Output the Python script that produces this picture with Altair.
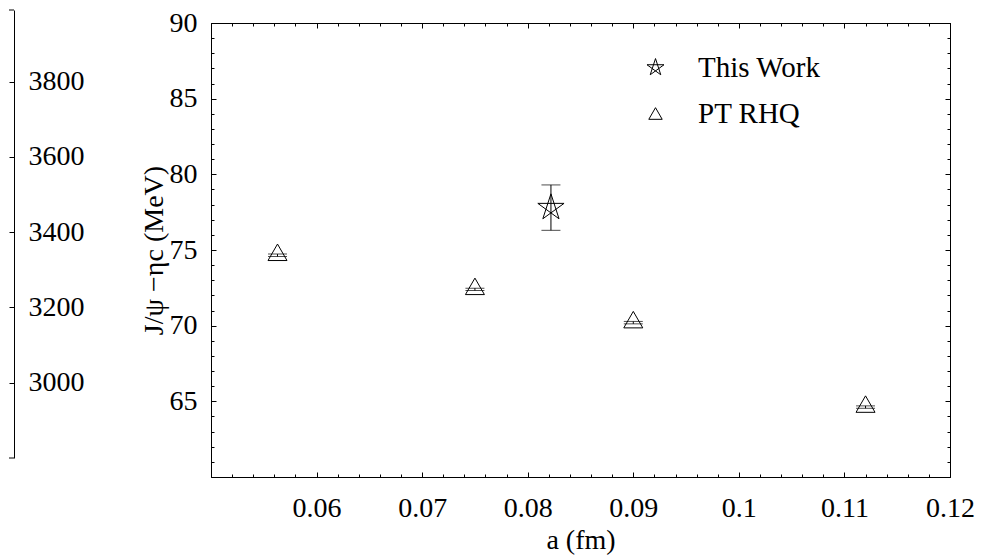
import altair as alt
import pandas as pd

# ---------------- data ----------------
series_names = ["This Work", "PT RHQ"]

a_this = [0.0822]
v_this = [77.8]
e_this = [1.5]

a_pt = [0.0563, 0.075, 0.090, 0.112]
v_pt = [74.65, 72.4, 70.2, 64.62]
e_pt = [0.08, 0.08, 0.08, 0.08]

x_major = [0.06, 0.07, 0.08, 0.09, 0.10, 0.11, 0.12]
x_minor = [round(0.05 + 0.002 * i, 3) for i in range(36)]
y_major = [65, 70, 75, 80, 85, 90]
y_minor = list(range(60, 91))
left_ticks = [3000, 3200, 3400, 3600, 3800]
left_domain = [2800, 3990]

# ---------------- styling ----------------
FONT = "Liberation Serif"
FS = 28
W, H = 739, 454
LW, LH, LTOP = 5, 448, -13

STAR = "M0,-1L0.588,0.809L-0.951,-0.309L0.951,-0.309L-0.588,0.809Z"
TRI = "M0,-0.65L0.75,0.65L-0.75,0.65Z"

txt = dict(labelFont=FONT, labelFontSize=FS, labelColor="black",
           titleFont=FONT, titleFontSize=FS, titleColor="black",
           titleFontWeight="normal")

df = pd.DataFrame({
    "a": a_this + a_pt,
    "v": v_this + v_pt,
    "e": e_this + e_pt,
    "series": [series_names[0]] * len(a_this) + [series_names[1]] * len(a_pt),
})
df["lo"] = df["v"] - df["e"]
df["hi"] = df["v"] + df["e"]

xscale = alt.Scale(domain=[0.05, 0.12], nice=False, zero=False)
yscale = alt.Scale(domain=[60, 90], nice=False, zero=False)
shape_scale = alt.Scale(domain=series_names, range=[STAR, TRI])

legend = alt.Legend(
    title=None, orient="none", legendX=632, legendY=30,
    symbolSize=320, symbolStrokeColor="black", symbolStrokeWidth=1,
    labelOffset=28, rowPadding=16, padding=0,
    labelFont=FONT, labelFontSize=29, labelColor="black",
)

x_major_axis = alt.Axis(
    orient="bottom", values=x_major, format=".2~f", title="a (fm)",
    ticks=False, domain=False, grid=True, gridColor="black", gridOpacity=1,
    gridWidth=1, gridDash=[5, H - 10, 5, 3000],
    labelFlush=False, labelOverlap=False, labelPadding=17, titlePadding=4, **txt,
)
y_major_axis = alt.Axis(
    orient="left", values=y_major, format="d", title="J/ψ −ηc (MeV)",
    ticks=False, domain=False, grid=True, gridColor="black", gridOpacity=1,
    gridWidth=1, gridDash=[5, W - 10, 5, 3000],
    labelFlush=False, labelOverlap=False, labelPadding=14, titlePadding=1, **txt,
)
x_minor_axis = alt.Axis(
    orient="top", values=x_minor, labels=False, ticks=False, domain=False,
    title=None, grid=True, gridColor="black", gridOpacity=1, gridWidth=1,
    gridDash=[3, H - 6, 3, 3000],
)
y_minor_axis = alt.Axis(
    orient="right", values=y_minor, labels=False, ticks=False, domain=False,
    title=None, grid=True, gridColor="black", gridOpacity=1, gridWidth=1,
    gridDash=[3, W - 6, 3, 3000],
)

base = alt.Chart(df)

tri = base.transform_filter(alt.datum.series == series_names[1]).mark_point(
    filled=False, size=642, color="black", strokeWidth=1, opacity=1, yOffset=-3
).encode(
    x=alt.X("a:Q", scale=xscale, axis=x_major_axis),
    y=alt.Y("v:Q", scale=yscale, axis=y_major_axis),
    shape=alt.Shape("series:N", scale=shape_scale, legend=legend),
)

bars = base.mark_rule(color="black", strokeWidth=1).encode(
    x=alt.X("a:Q", scale=xscale, axis=x_minor_axis),
    y=alt.Y("lo:Q", scale=yscale, axis=y_minor_axis),
    y2="hi:Q",
)

cap_lo = base.mark_tick(orient="horizontal", size=19, thickness=1, color="black").encode(
    x=alt.X("a:Q", scale=xscale, axis=None),
    y=alt.Y("lo:Q", scale=yscale, axis=None),
)
cap_hi = base.mark_tick(orient="horizontal", size=19, thickness=1, color="black").encode(
    x=alt.X("a:Q", scale=xscale, axis=None),
    y=alt.Y("hi:Q", scale=yscale, axis=None),
)

star = base.transform_filter(alt.datum.series == series_names[0]).mark_point(
    filled=False, size=760, color="black", strokeWidth=1, opacity=1
).encode(
    x=alt.X("a:Q", scale=xscale, axis=None),
    y=alt.Y("v:Q", scale=yscale, axis=None),
    shape=alt.Shape("series:N", scale=shape_scale, legend=legend),
)

main = alt.layer(tri, bars, cap_lo, cap_hi, star).resolve_axis(
    x="independent", y="independent"
).properties(width=W, height=H)

# partial neighbouring panel at the left edge
left_df = pd.DataFrame({"edge": left_domain})
left = alt.Chart(left_df).mark_rule(color="black", strokeWidth=1).encode(
    y=alt.Y("edge:Q",
            scale=alt.Scale(domain=left_domain, nice=False, zero=False,
                            range=[LTOP + LH, LTOP]),
            axis=alt.Axis(orient="right", values=left_ticks, format="d", title=None,
                          ticks=False, domain=True, domainColor="black", grid=True,
                          gridColor="black", gridOpacity=1, labelPadding=14,
                          labelFlush=False, labelOverlap=False, **txt)),
    x=alt.value(0),
    x2=alt.value(LW),
).properties(width=LW, height=H, view=alt.ViewBackground(stroke="transparent"))

chart = alt.hconcat(left, main, spacing=54).properties(
    padding={"left": 0, "top": 0, "right": 0, "bottom": 0},
    background="white",
).configure_view(stroke="black", strokeWidth=1)

chart.save("out.html", embed_options={"renderer": "svg", "actions": False})
